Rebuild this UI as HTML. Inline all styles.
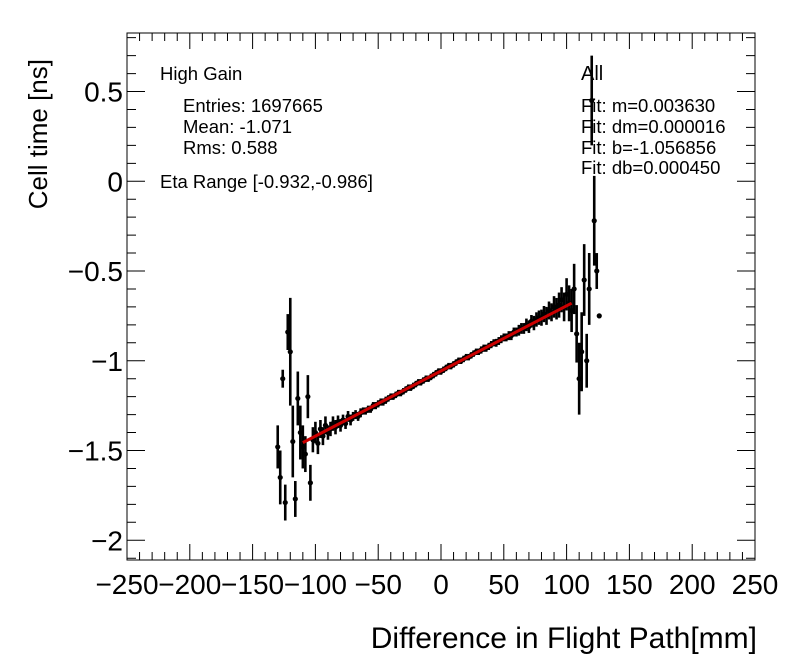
<!DOCTYPE html>
<html><head><meta charset="utf-8"><style>
html,body{margin:0;padding:0;background:#fff;}
svg{display:block;font-family:"Liberation Sans",sans-serif;}
</style></head><body>
<svg id="chart" width="796" height="672" viewBox="0 0 796 672" xmlns="http://www.w3.org/2000/svg">
<rect x="0" y="0" width="796" height="672" fill="#fff"/>
<g id="marks"></g>
<g id="axes"></g>
<text x="0" y="0" font-size="26" text-anchor="end" transform="translate(47,59) rotate(-90)">Cell time [ns]</text>
<text x="757" y="648" font-size="30" text-anchor="end">Difference in Flight Path[mm]</text>
<g font-size="18.5">
<text x="160" y="80">High Gain</text>
<text x="183" y="112">Entries: 1697665</text>
<text x="183" y="133">Mean: -1.071</text>
<text x="183" y="154">Rms: 0.588</text>
<text x="160" y="188">Eta Range [-0.932,-0.986]</text>
</g>
<g font-size="18.5">
<text x="581" y="80" font-size="20">All</text>
<text x="581" y="112">Fit: m=0.003630</text>
<text x="581" y="133">Fit: dm=0.000016</text>
<text x="581" y="154">Fit: b=-1.056856</text>
<text x="581" y="174">Fit: db=0.000450</text>
</g>
</svg>
<script>
const xVals=[-130,-128,-126,-124,-122,-120,-118,-116,-114,-112,-110,-108,-106,-104,-102,-100,-98,-96,-94,-92,-90,-88,-86,-84,-82,-80,-78,-76,-74,-72,-70,-68,-66,-64,-62,-60,-58,-56,-54,-52,-50,-48,-46,-44,-42,-40,-38,-36,-34,-32,-30,-28,-26,-24,-22,-20,-18,-16,-14,-12,-10,-8,-6,-4,-2,0,2,4,6,8,10,12,14,16,18,20,22,24,26,28,30,32,34,36,38,40,42,44,46,48,50,52,54,56,58,60,62,64,66,68,70,72,74,76,78,80,82,84,86,88,90,92,94,96,98,100,102,104,106,108,110,112,114,116,118,120,122,124,126];
const yVals=[-1.48,-1.65,-1.10,-1.79,-0.84,-0.95,-1.45,-1.77,-1.21,-1.40,-1.48,-1.52,-1.20,-1.68,-1.44,-1.40,-1.46,-1.38,-1.42,-1.36,-1.40,-1.38,-1.35,-1.37,-1.34,-1.36,-1.33,-1.35,-1.31,-1.33,-1.31,-1.30,-1.31,-1.29,-1.28,-1.28,-1.27,-1.27,-1.25,-1.25,-1.24,-1.23,-1.23,-1.22,-1.21,-1.20,-1.20,-1.19,-1.18,-1.18,-1.17,-1.16,-1.15,-1.15,-1.14,-1.13,-1.12,-1.12,-1.11,-1.10,-1.10,-1.09,-1.08,-1.07,-1.06,-1.06,-1.05,-1.04,-1.03,-1.03,-1.02,-1.01,-1.00,-1.00,-0.99,-0.98,-0.98,-0.97,-0.96,-0.95,-0.95,-0.94,-0.93,-0.93,-0.92,-0.91,-0.90,-0.90,-0.89,-0.88,-0.87,-0.87,-0.86,-0.86,-0.84,-0.84,-0.83,-0.82,-0.82,-0.80,-0.81,-0.78,-0.79,-0.77,-0.76,-0.76,-0.74,-0.75,-0.72,-0.73,-0.70,-0.71,-0.69,-0.66,-0.70,-0.63,-0.68,-0.72,-0.60,-0.85,-1.10,-0.95,-0.55,-1.00,-0.60,0.45,-0.22,-0.50,-0.75];
const yErrs=[0.12,0.15,0.05,0.10,0.10,0.30,0.20,0.10,0.15,0.15,0.12,0.10,0.12,0.10,0.07,0.06,0.06,0.05,0.05,0.05,0.04,0.04,0.04,0.04,0.035,0.035,0.03,0.03,0.03,0.03,0.025,0.025,0.025,0.025,0.02,0.02,0.02,0.02,0.02,0.02,0.02,0.02,0.02,0.02,0.018,0.018,0.018,0.018,0.018,0.018,0.018,0.018,0.018,0.018,0.018,0.018,0.018,0.018,0.018,0.018,0.018,0.018,0.018,0.018,0.018,0.018,0.018,0.018,0.018,0.018,0.018,0.018,0.018,0.018,0.018,0.018,0.018,0.018,0.018,0.018,0.018,0.02,0.02,0.02,0.02,0.02,0.02,0.022,0.022,0.022,0.022,0.022,0.025,0.025,0.025,0.025,0.03,0.03,0.03,0.035,0.035,0.035,0.04,0.04,0.04,0.045,0.045,0.05,0.05,0.05,0.06,0.06,0.07,0.07,0.08,0.09,0.10,0.12,0.14,0.16,0.20,0.22,0.20,0.15,0.20,0.25,0.25,0.10,0];
const fitSlope=0.003630, fitIntercept=-1.056856, fitRange=[-110,104];
const xTicks=[-250,-200,-150,-100,-50,0,50,100,150,200,250];
const xTickLabels=["\u2212250","\u2212200","\u2212150","\u2212100","\u221250","0","50","100","150","200","250"];
const yTicks=[0.5,0,-0.5,-1,-1.5,-2];
const yTickLabels=["0.5","0","\u22120.5","\u22121","\u22121.5","\u22122"];

const L=127,R=755,T=33,B=560;
const xMin=-250,xMax=250,yMax=0.826,yMin=-2.11;
const sx=v=>L+(v-xMin)/(xMax-xMin)*(R-L);
const sy=v=>T+(yMax-v)/(yMax-yMin)*(B-T);
const NS="http://www.w3.org/2000/svg";
function mk(tag,attrs,parent){const e=document.createElementNS(NS,tag);for(const k in attrs)e.setAttribute(k,attrs[k]);parent.appendChild(e);return e;}
const marks=document.getElementById('marks');
xVals.forEach((x,i)=>{
  const y=yVals[i],e=yErrs[i];
  if(e>0){
    const ln=mk('line',{x1:sx(x),x2:sx(x),y1:sy(y+e),y2:sy(y-e),stroke:'#000','stroke-width':2.6},marks);
    
    
  }
  const c=mk('circle',{cx:sx(x),cy:sy(y),r:2.6,fill:'#000'},marks);
  
  
});
const fit=mk('line',{x1:sx(fitRange[0]),y1:sy(fitIntercept+fitSlope*fitRange[0]),x2:sx(fitRange[1]),y2:sy(fitIntercept+fitSlope*fitRange[1]),stroke:'#cc0000','stroke-width':3},marks);



const ax=document.getElementById('axes');
const frame=mk('rect',{x:L,y:T,width:R-L,height:B-T,fill:'none',stroke:'#000','stroke-width':1},ax);


let d='';
for(let v=-250;v<=250;v+=10){const X=sx(v);const len=(v%50===0)?16:8;d+=`M${X},${B}v${-len}M${X},${T}v${len}`;}
for(let k=-21;k<=8;k++){const v=k/10;if(v<yMin||v>yMax)continue;const Y=sy(v);const len=(k%5===0)?18:9;d+=`M${L},${Y}h${len}M${R},${Y}h${-len}`;}
const tk=mk('path',{d:d,stroke:'#000','stroke-width':1,fill:'none'},ax);


xTicks.forEach((v,i)=>{
  const t=mk('text',{x:sx(v),y:594,'font-size':28,'text-anchor':'middle'},ax);
  t.textContent=xTickLabels[i];
  
  
});
yTicks.forEach((v,i)=>{
  const t=mk('text',{x:123,y:sy(v)+10,'font-size':28,'text-anchor':'end'},ax);
  t.textContent=yTickLabels[i];
  
  
});
</script>
</body></html>
